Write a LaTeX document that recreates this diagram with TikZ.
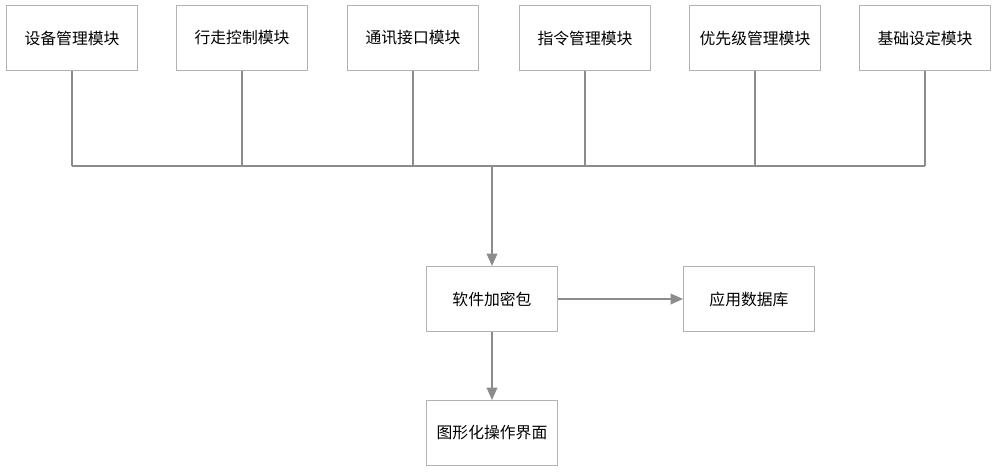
\documentclass[tikz,border=0pt]{standalone}
\usepackage{fontspec}
\setmainfont{Noto Sans CJK SC}
\usepackage{tikz}
\usetikzlibrary{arrows.meta}

\begin{document}
\begin{tikzpicture}[x=0.02cm,y=-0.02cm,>={Triangle[length=7pt,width=6pt]}]
	\tikzstyle{every node}=[align=center,font=\small]
	\tikzstyle{box}=[draw=black!30,line width=0.6pt,minimum width=2.62cm,minimum height=1.3cm,inner sep=0pt]
	\tikzstyle{wire}=[draw=black!45,line width=1pt]
	\useasboundingbox (0,0) rectangle (1000,474);
	\foreach \i/\x/\t in {1/72/设备管理模块,2/242/行走控制模块,3/413/通讯接口模块,4/585/指令管理模块,5/755/优先级管理模块,6/925/基础设定模块}{
		\node[box] (m\i) at (\x,38) {\t};
		\draw[wire] (m\i.south) -- (\x,166);
	}
	\coordinate (bus) at (492,166);
	\draw[wire] (72,166) -- (925,166);
	\node[box] (pkg) at (492,299) {软件加密包};
	\node[box] (db) at (749,299) {应用数据库};
	\node[box] (gui) at (492,433) {图形化操作界面};
	\draw[wire,->,draw=black!45,color=black!45] (bus) -- (pkg);
	\draw[wire,->,color=black!45] (pkg) -- (db);
	\draw[wire,->,color=black!45] (pkg) -- (gui);
\end{tikzpicture}
\end{document}
